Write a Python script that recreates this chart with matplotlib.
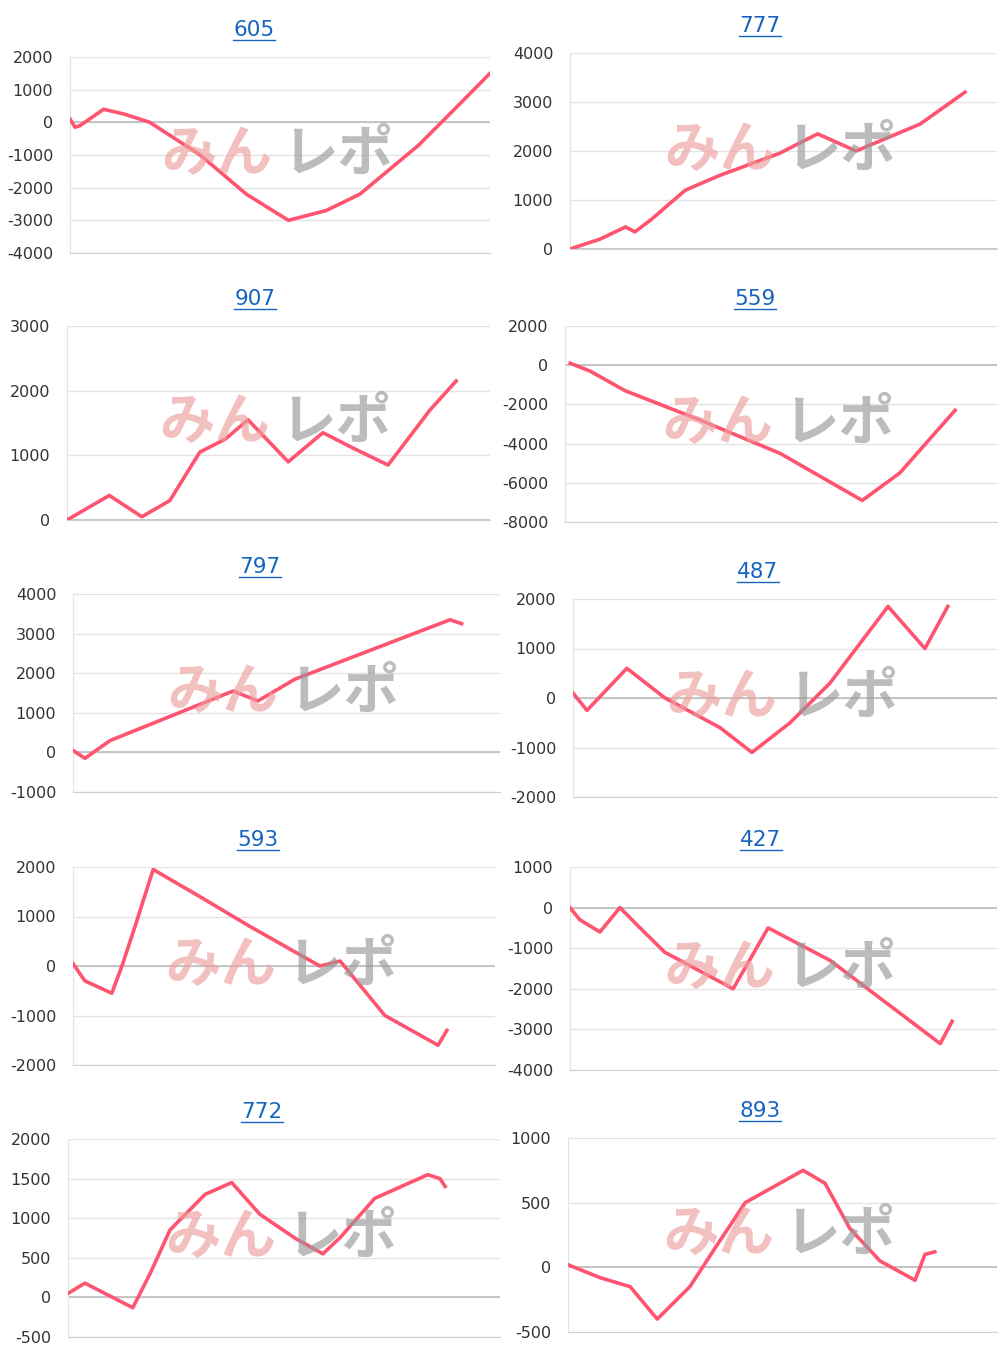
import matplotlib
matplotlib.use("Agg")
import matplotlib.pyplot as plt
plt.rcParams["axes.unicode_minus"] = False

titles = ["605", "777", "907", "559", "797", "487", "593", "427", "772", "893"]
xs = [
    [0,1.2,2.4,8,13,19,31,42,52,61,69,83,90,100],
    [0,7,13,15.2,19,27,35,49,58,67,82,92.5],
    [0,10,17.7,24.3,31.4,37.4,42.8,52.3,60.5,68,75.9,85.8,92],
    [1.2,5.8,13.9,31.3,49.8,68.8,77.5,90.3],
    [0,2.8,8.7,37.5,43.3,52,88.3,91],
    [0,3.3,12.7,21.7,34.7,42.2,51.2,60.6,74.3,83,88.4],
    [0,2.8,9.2,11.6,14.7,19,30.1,41.9,58.5,63.3,73.9,86.5,88.6],
    [0,2.3,7,11.7,16.4,22.2,38.2,46.4,60.9,86.7,89.5],
    [0,3.9,15,19,23.6,31.7,37.9,44.4,52.5,59,62.9,71,83.3,86.1,87.3],
    [0,7.5,14.5,20.8,28.4,34.3,41.3,54.8,59.9,65.7,72.7,80.9,83.2,85.5],
]
ys = [
    [100,-150,-100,400,250,0,-1000,-2200,-3000,-2700,-2200,-700,200,1500],
    [0,200,450,350,600,1200,1500,1950,2350,2000,2550,3200],
    [0,380,50,300,1050,1250,1550,900,1350,1100,850,1700,2150],
    [100,-300,-1300,-2800,-4500,-6900,-5500,-2300],
    [50,-150,300,1550,1300,1850,3350,3250],
    [100,-250,600,0,-600,-1100,-500,300,1850,1000,1850],
    [50,-300,-550,0,800,1950,1400,800,0,100,-1000,-1600,-1300],
    [0,-300,-600,0,-500,-1100,-2000,-500,-1300,-3350,-2800],
    [50,180,-130,300,850,1300,1450,1050,750,550,750,1250,1550,1500,1400],
    [20,-80,-150,-400,-150,150,500,750,650,300,50,-100,100,120],
]
yticks = [
    list(range(-4000,2001,1000)), list(range(0,4001,1000)), list(range(0,3001,1000)),
    list(range(-8000,2001,2000)), list(range(-1000,4001,1000)), list(range(-2000,2001,1000)),
    list(range(-2000,2001,1000)), list(range(-4000,1001,1000)), list(range(-500,2001,500)),
    list(range(-500,1001,500)),
]
# pixel boxes: left, right, top, bottom
boxes = [(70,490,57,253),(570,997,53,249),(67,490,326,520),(565,997,326,522),
         (73,500,594,792),(573,997,599,797),(73,495,867,1065),(570,997,867,1070),
         (68,500,1139,1337),(568,997,1138,1332)]
title_cx = [254, 760, 255, 755, 260, 758, 258, 761, 262, 760]
W, H = 1000, 1355
fig = plt.figure(figsize=(10, 13.55), dpi=100)
for i in range(10):
    l, r, t, b = boxes[i]
    ax = fig.add_axes([l/W, 1-b/H, (r-l)/W, (b-t)/H])
    ax.plot(xs[i], ys[i], color="#ff5470", lw=2.6, zorder=3)
    ax.set_xlim(0, 100)
    ax.set_ylim(yticks[i][0], yticks[i][-1])
    ax.set_yticks(yticks[i])
    ax.set_xticks([])
    ax.tick_params(axis="y", length=0, labelsize=11.5, colors="#333333", pad=12)
    ax.grid(axis="y", color="#e4e4e4", lw=1)
    ax.axhline(0, color="#bdbdbd", lw=1.2, zorder=2)
    for s in ["top", "right"]:
        ax.spines[s].set_visible(False)
    ax.spines["left"].set_color("#e4e4e4")
    ax.spines["bottom"].set_color("#d0d0d0")
    ax.set_axisbelow(True)
    cx = title_cx[i] / W
    fig.text(cx, 1-(t-27)/H, titles[i], ha="center", va="center", fontsize=15.5,
             color="#1565c0", fontfamily="DejaVu Sans")
    fig.lines.append(plt.Line2D([cx-0.021, cx+0.021], [1-(t-17)/H]*2, color="#1565c0", lw=1,
                                transform=fig.transFigure))
    # watermark
    wx = (l + r) / 2 - 3
    wy = (t + b) / 2
    fig.text((wx-5)/W, 1-wy/H, "みん", ha="right", va="center", fontsize=40, fontweight="bold",
             color="#ee9f9f", alpha=0.65, family=["Noto Sans CJK JP"], zorder=5)
    fig.text((wx+5)/W, 1-wy/H, "レポ", ha="left", va="center", fontsize=40, fontweight="bold",
             color="#999999", alpha=0.65, family=["Noto Sans CJK JP"], zorder=5)
fig.savefig("out.png", dpi=100)
